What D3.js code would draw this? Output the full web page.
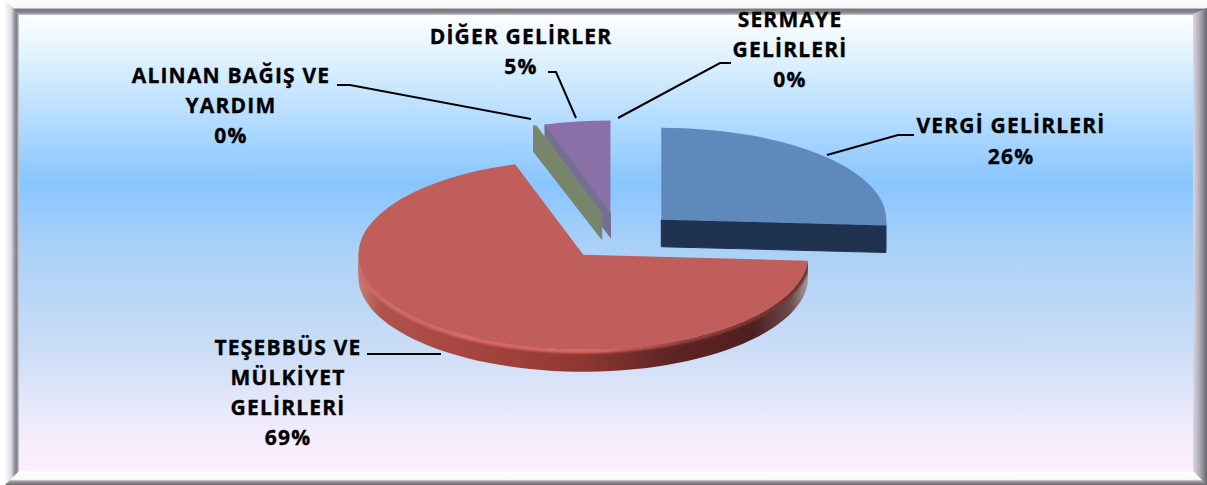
<!DOCTYPE html>
<html><head><meta charset="utf-8">
<script src="https://cdnjs.cloudflare.com/ajax/libs/d3/7.8.5/d3.min.js"></script>
<style>html,body{margin:0;padding:0;background:#fff}svg{display:block}
text{font-family:"Open Sans",sans-serif;font-weight:700;font-size:21px;fill:#000;text-anchor:middle;letter-spacing:1.2px;stroke:#000;stroke-width:.35px}</style>
</head><body><svg id="c" width="1207" height="485"></svg>
<script>
const categories = ["VERGİ GELİRLERİ","TEŞEBBÜS VE MÜLKİYET GELİRLERİ","ALINAN BAĞIŞ VE YARDIM","DİĞER GELİRLER","SERMAYE GELİRLERİ"];
const values = [26, 69.1, 0.2, 4.7, 0.0];
const percentLabels = ["26%","69%","0%","5%","0%"];
const labelLines = [["VERGİ GELİRLERİ"],["TEŞEBBÜS VE","MÜLKİYET","GELİRLERİ"],["ALINAN BAĞIŞ VE","YARDIM"],["DİĞER GELİRLER"],["SERMAYE","GELİRLERİ"]];
const topColors = ["#5f88bb","#c05e5c","#7d8a68","#8b70a8","#7d9fc0"];
const sideColors = ["#1f3350","url(#redRim)","#77856a","#757092","#7d9fc0"];
const labelBoxes = [[1011,133,31],[288,355,30],[231,83,30],[521,44,30],[790,27,30]];
const leaders = [[[827,155],[898,135],[914,135]],[[367,354],[441,354]],[[337,85],[350,85],[531,119]],[[548,72],[556,72],[576,118]],[[618,118],[720,63],[731,63]]];

const W=1207,H=485,cx=619,cy=236,rx=225,explode=58;
const radiiY=[92,95,92,92,92];
const depths=[27,22,26,25,0];
const svg=d3.select("#c"),defs=svg.append("defs");
function grad(id,stops,vertical){const g=defs.append("linearGradient").attr("id",id).attr("x1",0).attr("y1",0).attr("x2",vertical?0:1).attr("y2",vertical?1:0);
 stops.forEach(s=>g.append("stop").attr("offset",s[0]).attr("stop-color",s[1]));}
grad("bg",[[0,"#ffffff"],[.1,"#ddf1ff"],[.37,"#88c5ff"],[.5,"#a8d0f8"],[.72,"#c8dcf6"],[.9,"#f0ebfb"],[1,"#ffeeff"]],true);
grad("redRim",[[0,"#c97c74"],[.05,"#b0534c"],[.3,"#a2423d"],[.5,"#8f3734"],[.7,"#5c2422"],[.88,"#4f2020"],[.96,"#6a4a4a"],[1,"#a89a9e"]]);
grad("redEdge",[[0,"#c96a64"],[.25,"#dc6a62"],[.55,"#d8665f"],[.72,"#9a4442"],[1,"#6e2e2e"]]);
grad("lf",[[0,"#fafafc"],[.45,"#dcdce2"],[.62,"#a4a4aa"],[.82,"#808086"],[1,"#c8cce0"]]);
grad("rf",[[0,"#dcd6e6"],[.5,"#aca8b2"],[1,"#66666c"]]);
grad("tf",[[0,"#fdfdfd"],[.52,"#f6f6f6"],[.62,"#76767a"],[.85,"#8a8a90"],[1,"#c8ccd8"]],true);
grad("bf",[[0,"#fefefe"],[.6,"#fbf8fb"],[.72,"#a8a0a8"],[1,"#6a666c"]],true);
defs.append("filter").attr("id","soft").append("feGaussianBlur").attr("stdDeviation",0.9);

// frame
svg.append("rect").attr("width",W).attr("height",H).attr("fill","#fff");
svg.append("rect").attr("x",19).attr("y",14).attr("width",1174).attr("height",458).attr("fill","url(#bg)");
svg.append("rect").attr("x",5).attr("y",0).attr("width",W-5).attr("height",15).attr("fill","url(#tf)");
svg.append("rect").attr("x",5).attr("y",471).attr("width",W-5).attr("height",14).attr("fill","url(#bf)");
svg.append("path").attr("d","M5 0L19 14V471L5 485Z").attr("fill","url(#lf)");
svg.append("path").attr("d","M1207 8L1193 14V471L1207 485Z").attr("fill","url(#rf)");

const arcs=d3.pie().sort(null).value(d=>d)(values);
const arcGen=d3.arc().innerRadius(0).outerRadius(1);
const pt=(a,c,ry,dy=0)=>[c[0]+rx*Math.sin(a),c[1]-ry*Math.cos(a)+dy];
const line=d3.line();
function sliceCenter(i){const m=(arcs[i].startAngle+arcs[i].endAngle)/2;return [cx+explode*Math.sin(m),cy-explode*0.41*Math.cos(m)];}
const g=svg.append("g");
function draw(i){
 const a=arcs[i],c=sliceCenter(i),d=depths[i],ry=radiiY[i];
 if(a.endAngle-a.startAngle<1e-6)return;
 const planes=[];
 if(a.startAngle>Math.PI) planes.push(a.startAngle);
 if(a.endAngle<Math.PI) planes.push(a.endAngle);
 planes.forEach(t=>{const o=pt(t,c,ry);
   g.append("path").attr("d",line([c,o,[o[0],o[1]+d],[c[0],c[1]+d]])+"Z").attr("fill",sideColors[i]).attr("stroke",sideColors[i]).attr("stroke-width",1).attr("stroke-linejoin","round");});
 const s=Math.max(a.startAngle,Math.PI/2),e=Math.min(a.endAngle,Math.PI*1.5);
 if(e>s){
   const ts=d3.range(0,61).map(k=>s+(e-s)*k/60);
   const upper=ts.map(t=>pt(t,c,ry)),lower=ts.map(t=>pt(t,c,ry,d)).reverse();
   const rim=line(upper.concat(lower))+"Z";
   g.append("path").attr("d",rim).attr("fill",sideColors[i]);
   if(i==1){
     defs.append("clipPath").attr("id","rimClip").append("path").attr("d",rim);
     g.append("g").attr("clip-path","url(#rimClip)").append("path").attr("d",line(upper)).attr("fill","none").attr("stroke","url(#redEdge)").attr("stroke-width",7).attr("filter","url(#soft)");
   }
 }
 g.append("path").attr("d",arcGen(a)).attr("transform",`translate(${c[0]},${c[1]}) scale(${rx},${ry})`).attr("fill",topColors[i]);
}
[1,3,2,0].forEach(draw);

leaders.forEach(l=>svg.append("path").attr("d",line(l)).attr("fill","none").attr("stroke","#000").attr("stroke-width",2));
labelBoxes.forEach((b,i)=>{
 labelLines[i].concat(percentLabels[i]).forEach((t,k)=>svg.append("text").attr("x",b[0]).attr("y",b[1]+k*b[2]).text(t));
});
</script></body></html>
